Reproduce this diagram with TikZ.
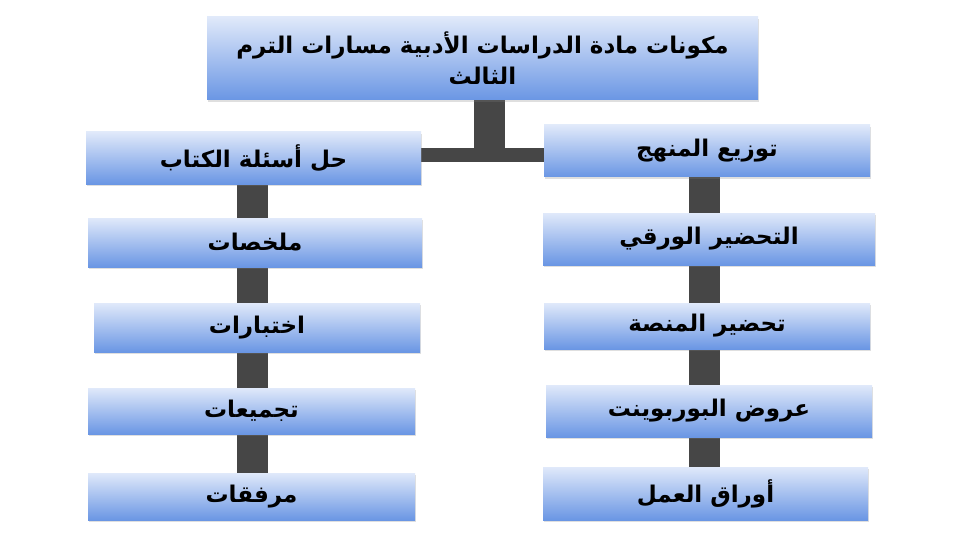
\documentclass[tikz,border=0pt]{standalone}
\usepackage{fontspec}
\newfontfamily\arabicfont[Script=Arabic]{DejaVu Sans}
\TeXXeTstate=1
\usetikzlibrary{backgrounds,shadows}
\definecolor{boxtop}{RGB}{224,233,250}
\definecolor{boxbot}{RGB}{106,150,228}
\definecolor{bargray}{RGB}{70,70,70}
\tikzstyle{item}=[top color=boxtop,bottom color=boxbot,inner sep=2pt,
  font=\arabicfont\bfseries\fontsize{23}{31}\selectfont,
  drop shadow={shadow xshift=1pt,shadow yshift=-2pt,opacity=0.25}]
\tikzstyle{bar}=[draw=bargray,line width=31pt]
\tikzstyle{thinbar}=[draw=bargray,line width=14pt]

\begin{document}
\begin{tikzpicture}[x=1pt,y=-1pt]
    \useasboundingbox (0,0) rectangle (960,540);

    \node [item,minimum width=551pt,minimum height=83pt,align=center] (top) at (482.5,58.5)
      {\beginR مكونات مادة الدراسات الأدبية مسارات الترم\endR\\\beginR الثالث\endR};

    % left column
    \node [item,minimum width=335pt,minimum height=52pt] (l1) at (253.5,158) {\beginR حل أسئلة الكتاب\endR};
    \node [item,minimum width=334pt,minimum height=49pt] (l2) at (255,242.5) {\beginR ملخصات\endR};
    \node [item,minimum width=326pt,minimum height=49pt] (l3) at (257,327.5) {\beginR اختبارات\endR};
    \node [item,minimum width=327pt,minimum height=46pt] (l4) at (251.5,411) {\beginR تجميعات\endR};
    \node [item,minimum width=327pt,minimum height=47pt] (l5) at (251.5,496.5) {\beginR مرفقات\endR};

    % right column
    \node [item,minimum width=326pt,minimum height=52pt] (r1) at (707,151) {\beginR توزيع المنهج\endR};
    \node [item,minimum width=332pt,minimum height=52pt] (r2) at (709,239) {\beginR التحضير الورقي\endR};
    \node [item,minimum width=326pt,minimum height=46pt] (r3) at (707,326) {\beginR تحضير المنصة\endR};
    \node [item,minimum width=326pt,minimum height=52pt] (r4) at (709,411) {\beginR عروض البوربوينت\endR};
    \node [item,minimum width=325pt,minimum height=53pt] (r5) at (705.5,493.5) {\beginR أوراق العمل\endR};

    \coordinate (hub) at (489,155);
    \coordinate (lcol) at (252,0);
    \coordinate (rcol) at (704,0);

    % connectors behind the boxes
    \begin{scope}[on background layer]
      \draw [bar] (top.south -| hub) -- (hub);
      \draw [thinbar] (l1.east |- hub) -- (r1.west |- hub);
      \draw [bar] (l1.center -| lcol) -- (l5.center -| lcol);
      \draw [bar] (r1.center -| rcol) -- (r5.center -| rcol);
    \end{scope}
\end{tikzpicture}
\end{document}
